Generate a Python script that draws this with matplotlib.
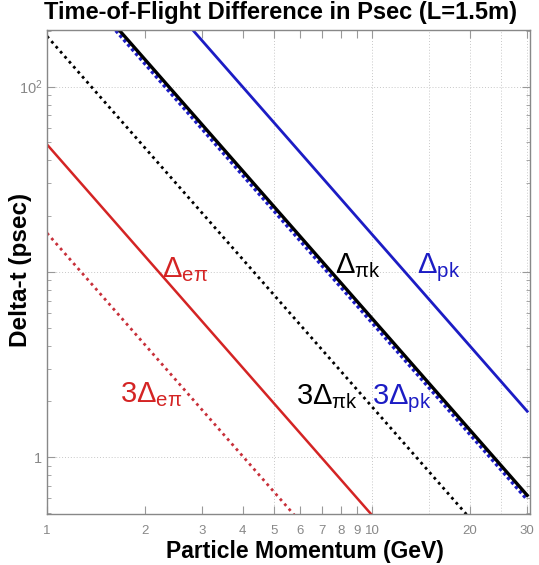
import matplotlib
matplotlib.use("Agg")
import matplotlib.pyplot as plt
from matplotlib.ticker import FixedLocator, LogLocator, NullFormatter

plt.rcParams["font.family"] = ["Liberation Sans", "DejaVu Sans"]
plt.rcParams["mathtext.fontset"] = "custom"
plt.rcParams["mathtext.rm"] = "Liberation Sans"

# momentum range of each curve (GeV) and the time difference (ps) read at its ends
p_ends = [1.0, 30.0]
d_epi = [48.7, 0.054]
d_epi_3 = [16.2, 0.018]
d_pik = [561.0, 0.623]
d_pik_3 = [187.0, 0.208]
d_pk = [1592.0, 1.77]
d_pk_3 = [531.0, 0.59]

x_ticks = [1, 2, 3, 4, 5, 6, 7, 8, 9, 10, 20, 30]
x_grid = [5, 10, 15, 20, 25, 30]
y_grid = [1, 10, 100]

RED = "#d42424"
BLUE = "#1c1cc4"

fig = plt.figure(figsize=(5.39, 5.65), dpi=100)
ax = fig.add_axes([47 / 539, 51 / 565, 483 / 539, 484 / 565])
ax.set_xscale("log")
ax.set_yscale("log")
ax.set_xlim(1, 30.6)
ax.set_ylim(0.494, 202)

for v in x_grid:
    ax.axvline(v, color="#c8c8c8", lw=0.7, ls=(0, (1, 2)), zorder=0)
for v in y_grid:
    ax.axhline(v, color="#c8c8c8", lw=0.7, ls=(0, (1, 2)), zorder=0)

ax.plot(p_ends, d_epi, color=RED, lw=1.8)
ax.plot(p_ends, d_epi_3, color="#c8303a", lw=2.0, ls=(0, (1, 1.4)))
ax.plot(p_ends, d_pk, color=BLUE, lw=2.0)
ax.plot(p_ends, d_pik_3, color="black", lw=2.0, ls=(0, (1, 1.4)))
ax.plot(p_ends, d_pk_3, color=BLUE, lw=2.4, ls=(0, (1, 0.8)))
ax.plot(p_ends, d_pik, color="black", lw=2.4)

labels = [
    (2.26, 9.4, r"\Delta", "eπ", RED),
    (7.7, 9.9, r"\Delta", "πk", "black"),
    (13.7, 9.9, r"\Delta", "pk", BLUE),
    (1.68, 1.99, r"3\Delta", "eπ", RED),
    (5.85, 1.93, r"3\Delta", "πk", "black"),
    (10.0, 1.93, r"3\Delta", "pk", BLUE),
]
for x, y, big, sub, c in labels:
    ax.text(x, y, rf"$\mathregular{{{big}_{{{sub}}}}}$", color=c,
            fontsize=21, ha="left", va="baseline")

ax.xaxis.set_major_locator(FixedLocator(x_ticks))
ax.xaxis.set_minor_locator(FixedLocator([]))
ax.set_xticklabels([str(t) for t in x_ticks])
ax.yaxis.set_major_locator(FixedLocator([1, 10, 100]))
ax.yaxis.set_minor_locator(LogLocator(base=10, subs=range(2, 10)))
ax.yaxis.set_minor_formatter(NullFormatter())
ax.set_yticklabels(["1", "", r"$\mathregular{10^2}$"])

ax.tick_params(which="both", direction="in", top=True, right=True,
               colors="#999999", labelcolor="#888888", labelsize=9.5)
ax.tick_params(axis="y", labelsize=10.5)
ax.tick_params(which="major", length=6)
ax.tick_params(which="minor", length=3)
ax.tick_params(axis="x", pad=8)
for s in ax.spines.values():
    s.set_color("#888888")
    s.set_linewidth(1.0)

ax.set_xlabel("Particle Momentum (GeV)", fontsize=16.5, fontweight="bold")
ax.xaxis.set_label_coords((305 - 47) / 483, -0.053)
ax.set_ylabel("Delta-t (psec)", fontsize=17.5, fontweight="bold")
ax.yaxis.set_label_coords(-15 / 483, (565 - 51 - 270) / 484)
fig.text(280 / 539, 1 - 13 / 565, "Time-of-Flight Difference in Psec (L=1.5m)",
         fontsize=17, fontweight="bold", ha="center", va="center")

fig.savefig("out.png", dpi=100)
